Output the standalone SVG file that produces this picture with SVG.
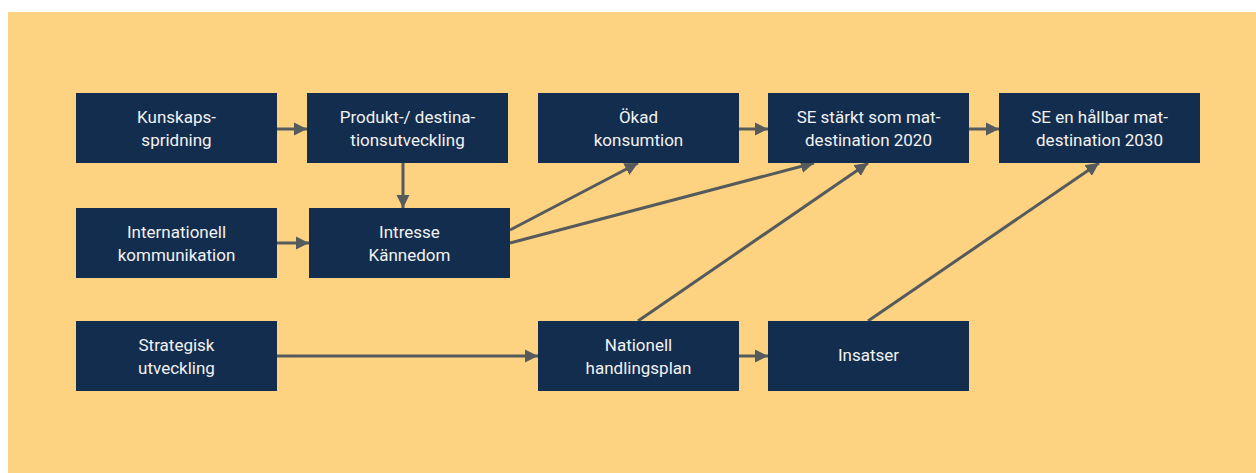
<svg xmlns="http://www.w3.org/2000/svg" width="1256" height="473" viewBox="0 0 1256 473">
<defs>
<marker id="ah" viewBox="0 0 10 10" refX="10" refY="5" markerWidth="4.4" markerHeight="4.4" markerUnits="strokeWidth" orient="auto">
<path d="M0,0 L10,5 L0,10 z" fill="#555a5c"/>
</marker>
<style>
.box{fill:#132d4e}
.t{font-family:Roboto,"Liberation Sans",sans-serif;font-size:17px;fill:#f2f2f2;text-anchor:middle}
.c{stroke:#555a5c;stroke-width:3;fill:none;marker-end:url(#ah)}
</style>
</defs>
<rect width="1256" height="473" fill="#ffffff"/>
<rect x="8" y="12" width="1248" height="461" fill="#fdd382"/>
<g id="connectors">
<line class="c" x1="277" y1="129" x2="307" y2="129"/>
<line class="c" x1="403" y1="163" x2="403" y2="208"/>
<line class="c" x1="277" y1="243" x2="309" y2="243"/>
<line class="c" x1="510" y1="230" x2="638" y2="163"/>
<line class="c" x1="510" y1="243" x2="814" y2="163"/>
<line class="c" x1="739" y1="129" x2="768" y2="129"/>
<line class="c" x1="969" y1="129" x2="999" y2="129"/>
<line class="c" x1="638" y1="321" x2="868" y2="163"/>
<line class="c" x1="868" y1="321" x2="1099" y2="163"/>
<line class="c" x1="277" y1="356" x2="538" y2="356"/>
<line class="c" x1="739" y1="356" x2="768" y2="356"/>
</g>
<g id="n1"><rect class="box" x="76" y="93" width="201" height="70"/><text class="t" x="176.5" y="123">Kunskaps-</text><text class="t" x="176.5" y="146">spridning</text></g>
<g id="n2"><rect class="box" x="307" y="93" width="201" height="70"/><text class="t" x="407.5" y="123">Produkt-/ destina-</text><text class="t" x="407.5" y="146">tionsutveckling</text></g>
<g id="n3"><rect class="box" x="538" y="93" width="201" height="70"/><text class="t" x="638.5" y="123">Ökad</text><text class="t" x="638.5" y="146">konsumtion</text></g>
<g id="n4"><rect class="box" x="768" y="93" width="201" height="70"/><text class="t" x="868.5" y="123">SE stärkt som mat-</text><text class="t" x="868.5" y="146">destination 2020</text></g>
<g id="n5"><rect class="box" x="999" y="93" width="201" height="70"/><text class="t" x="1099.5" y="123">SE en hållbar mat-</text><text class="t" x="1099.5" y="146">destination 2030</text></g>
<g id="n6"><rect class="box" x="76" y="208" width="201" height="70"/><text class="t" x="176.5" y="238">Internationell</text><text class="t" x="176.5" y="261">kommunikation</text></g>
<g id="n7"><rect class="box" x="309" y="208" width="201" height="70"/><text class="t" x="409.5" y="238">Intresse</text><text class="t" x="409.5" y="261">Kännedom</text></g>
<g id="n8"><rect class="box" x="76" y="321" width="201" height="70"/><text class="t" x="176.5" y="351">Strategisk</text><text class="t" x="176.5" y="374">utveckling</text></g>
<g id="n9"><rect class="box" x="538" y="321" width="201" height="70"/><text class="t" x="638.5" y="351">Nationell</text><text class="t" x="638.5" y="374">handlingsplan</text></g>
<g id="n10"><rect class="box" x="768" y="321" width="201" height="70"/><text class="t" x="868.5" y="361">Insatser</text></g>
</svg>
